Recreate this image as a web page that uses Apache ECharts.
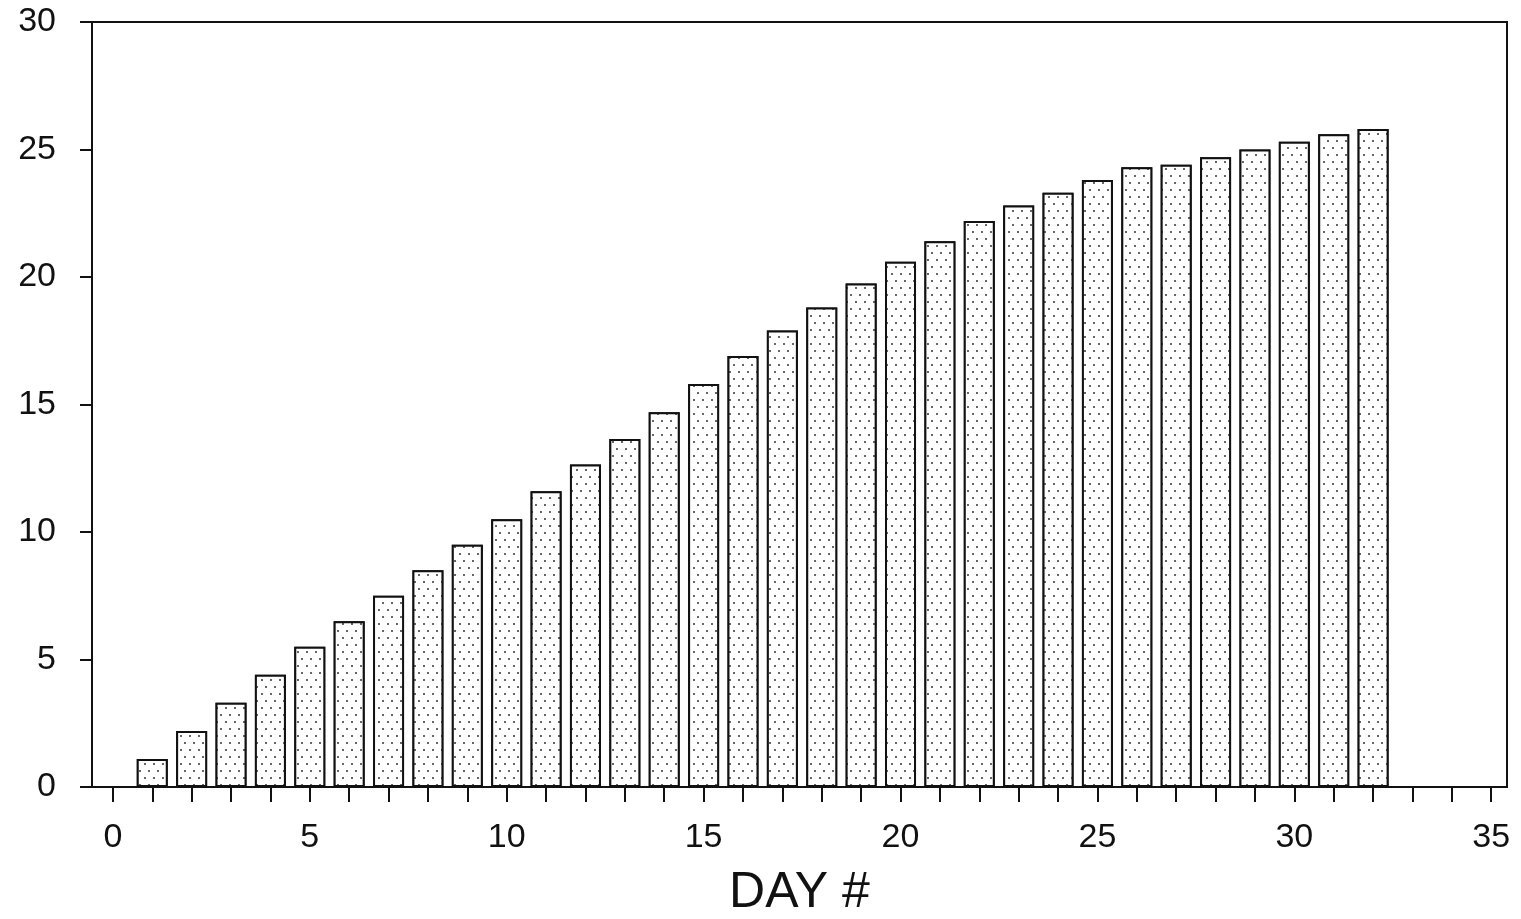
<!DOCTYPE html>
<html>
<head>
<meta charset="utf-8">
<script src="https://cdn.jsdelivr.net/npm/echarts@6/dist/echarts.min.js"></script>
<style>
  html, body { margin: 0; padding: 0; background: #fff; }
  #chart { width: 1521px; height: 919px; }
</style>
</head>
<body>
<div id="chart"></div>
<script>
// day number -> value
const days = [1, 2, 3, 4, 5, 6, 7, 8, 9, 10, 11, 12, 13, 14, 15, 16,
  17, 18, 19, 20, 21, 22, 23, 24, 25, 26, 27, 28, 29, 30, 31, 32];
const values = [1.1, 2.2, 3.3, 4.4, 5.5, 6.5, 7.5, 8.5, 9.5, 10.5, 11.6, 12.65,
  13.65, 14.7, 15.8, 16.9, 17.9, 18.8, 19.75, 20.6, 21.4, 22.2, 22.8, 23.3,
  23.8, 24.3, 24.4, 24.7, 25.0, 25.3, 25.6, 25.8];
const xTicks = [0, 1, 2, 3, 4, 5, 6, 7, 8, 9, 10, 11, 12, 13, 14, 15, 16, 17,
  18, 19, 20, 21, 22, 23, 24, 25, 26, 27, 28, 29, 30, 31, 32, 33, 34, 35];
const xLabels = [0, 5, 10, 15, 20, 25, 30, 35];

const FONT = '"Liberation Sans", Arial, sans-serif';
const INK = '#111';

const chart = echarts.init(document.getElementById('chart'));

chart.setOption({
  animation: false,
  backgroundColor: '#fff',
  grid: {
    left: 92, right: 14, top: 22, bottom: 132,
    // keep the plot box fixed, the axis title sits near the bottom edge
    outerBoundsMode: 'none',
    show: true, borderColor: INK, borderWidth: 2,
  },
  xAxis: {
    type: 'value',
    min: -0.53,
    max: 35.4,
    name: 'DAY #',
    nameLocation: 'middle',
    nameGap: 81,
    nameTextStyle: { fontFamily: FONT, fontSize: 50, color: INK },
    axisLine: { show: true, lineStyle: { color: INK, width: 2 } },
    axisTick: {
      show: true, inside: false, length: 15,
      customValues: xTicks,
      lineStyle: { color: INK, width: 2 },
    },
    axisLabel: {
      customValues: xLabels,
      margin: 34,
      fontFamily: FONT, fontSize: 34, color: INK,
    },
    splitLine: { show: false },
  },
  yAxis: {
    type: 'value',
    min: 0,
    max: 30,
    interval: 5,
    axisLine: { show: true, onZero: false, lineStyle: { color: INK, width: 2 } },
    axisTick: { show: true, length: 12, lineStyle: { color: INK, width: 2 } },
    axisLabel: {
      margin: 36,
      fontFamily: FONT, fontSize: 34, color: INK,
    },
    splitLine: { show: false },
  },
  series: [{
    type: 'bar',
    data: days.map((d, i) => [d, values[i]]),
    barWidth: 31,
    itemStyle: {
      color: '#fff',
      borderColor: INK,
      borderWidth: 2,
      decal: {
        symbol: 'rect',
        symbolSize: 1,
        color: '#666',
        backgroundColor: '#fff',
        dashArrayX: [[1.5, 7], [0, 4, 1.5, 3]],
        dashArrayY: [1.5, 5],
        rotation: 0,
      },
    },
  }],
});
</script>
</body>
</html>
